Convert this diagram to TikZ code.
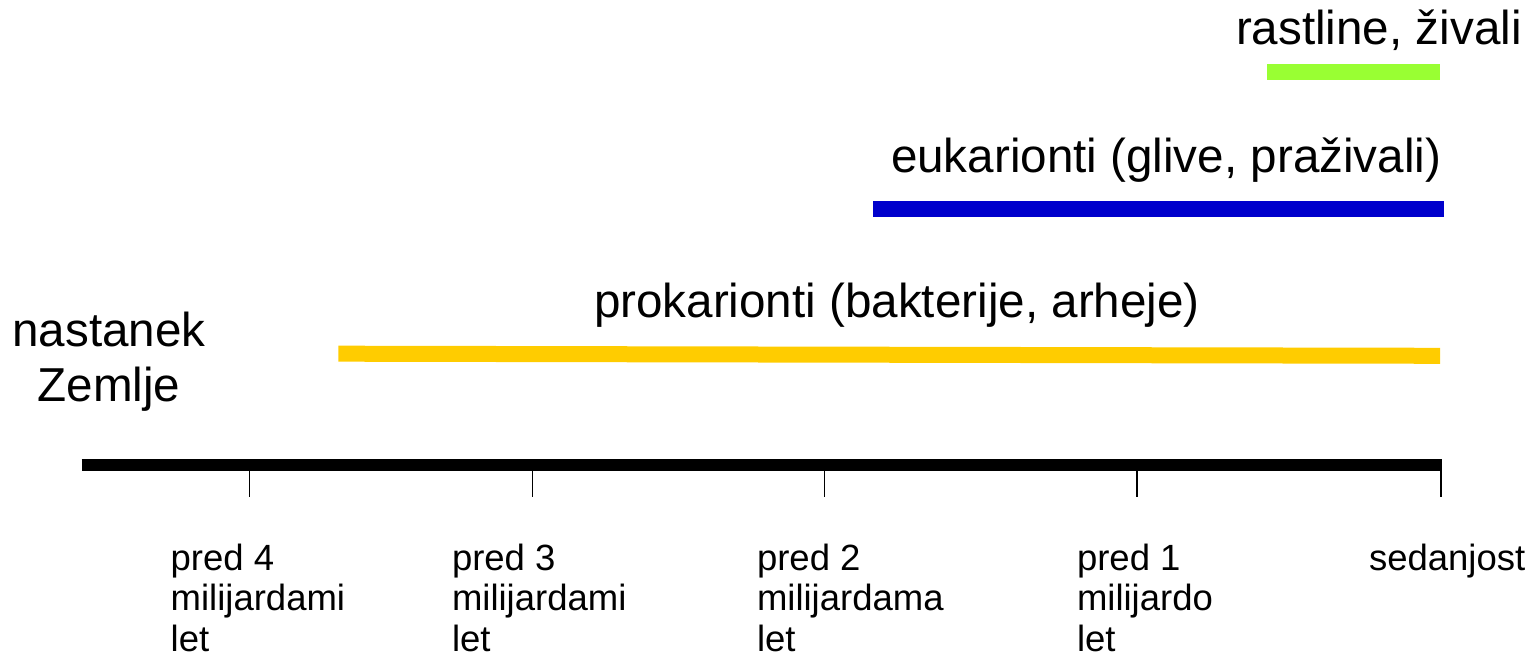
\documentclass[tikz,border=0pt]{standalone}
\usepackage{fontspec}
\setmainfont{Liberation Sans}
\definecolor{prokyellow}{HTML}{FFCC00}
\definecolor{eukblue}{HTML}{0000CC}
\definecolor{plantgreen}{HTML}{99FF33}
\tikzset{
  bigtext/.style={font=\fontsize{47.6}{54}\selectfont, inner sep=0pt, outer sep=0pt},
  smalltext/.style={font=\fontsize{36.5}{40.5}\selectfont, inner sep=0pt, outer sep=0pt, align=left, anchor=base west},
  bar/.style={line width=16pt, line cap=butt},
  axisline/.style={line width=11.7pt, line cap=butt, black},
  tickline/.style={line width=1.5pt, black}
}
\begin{document}
\begin{tikzpicture}[x=1pt,y=1pt]
\useasboundingbox (0,0) rectangle (1540,665);
% axis
\coordinate (axL) at (81.7,199.7);
\coordinate (axR) at (1442,199.7);
\draw[axisline] (axL) -- (axR);
% ticks
\foreach \n/\x in {t4/249.3, t3/532.7, t2/824.7, t1/1137, t0/1441}{
  \coordinate (\n top) at (\x,194);
  \coordinate (\n bot) at (\x,168);
  \draw[tickline] (\n top) -- (\n bot);
}
% bars
\coordinate (yS) at (338.3,311.3);
\coordinate (yE) at (1440,309.2);
\draw[bar, prokyellow] (yS) -- (yE);
\coordinate (bS) at (873.3,455.7);
\coordinate (bE) at (1444.3,455.7);
\draw[bar, eukblue] (bS) -- (bE);
\coordinate (gS) at (1267.3,593);
\coordinate (gE) at (1440,593);
\draw[bar, plantgreen] (gS) -- (gE);
% labels
\node[bigtext, anchor=base west] (rast) at (1236,620) {rastline, živali};
\node[bigtext, anchor=base west] (euk) at (891,492) {eukarionti (glive, praživali)};
\node[bigtext, anchor=base west] (prok) at (594,347) {prokarionti (bakterije, arheje)};
\node[bigtext, anchor=base] (nast) at (109,318) {nastanek};
\node[bigtext, anchor=base] (zem) at (109,264) {Zemlje};
% tick labels (base = baseline of last line)
\node[smalltext] (l4) at (170.7,14) {pred 4\\milijardami\\let};
\node[smalltext] (l3) at (452,14) {pred 3\\milijardami\\let};
\node[smalltext] (l2) at (757,14) {pred 2\\milijardama\\let};
\node[smalltext] (l1) at (1077,14) {pred 1\\milijardo\\let};
\node[smalltext] (l0) at (1369,95) {sedanjost};
\end{tikzpicture}
\end{document}
